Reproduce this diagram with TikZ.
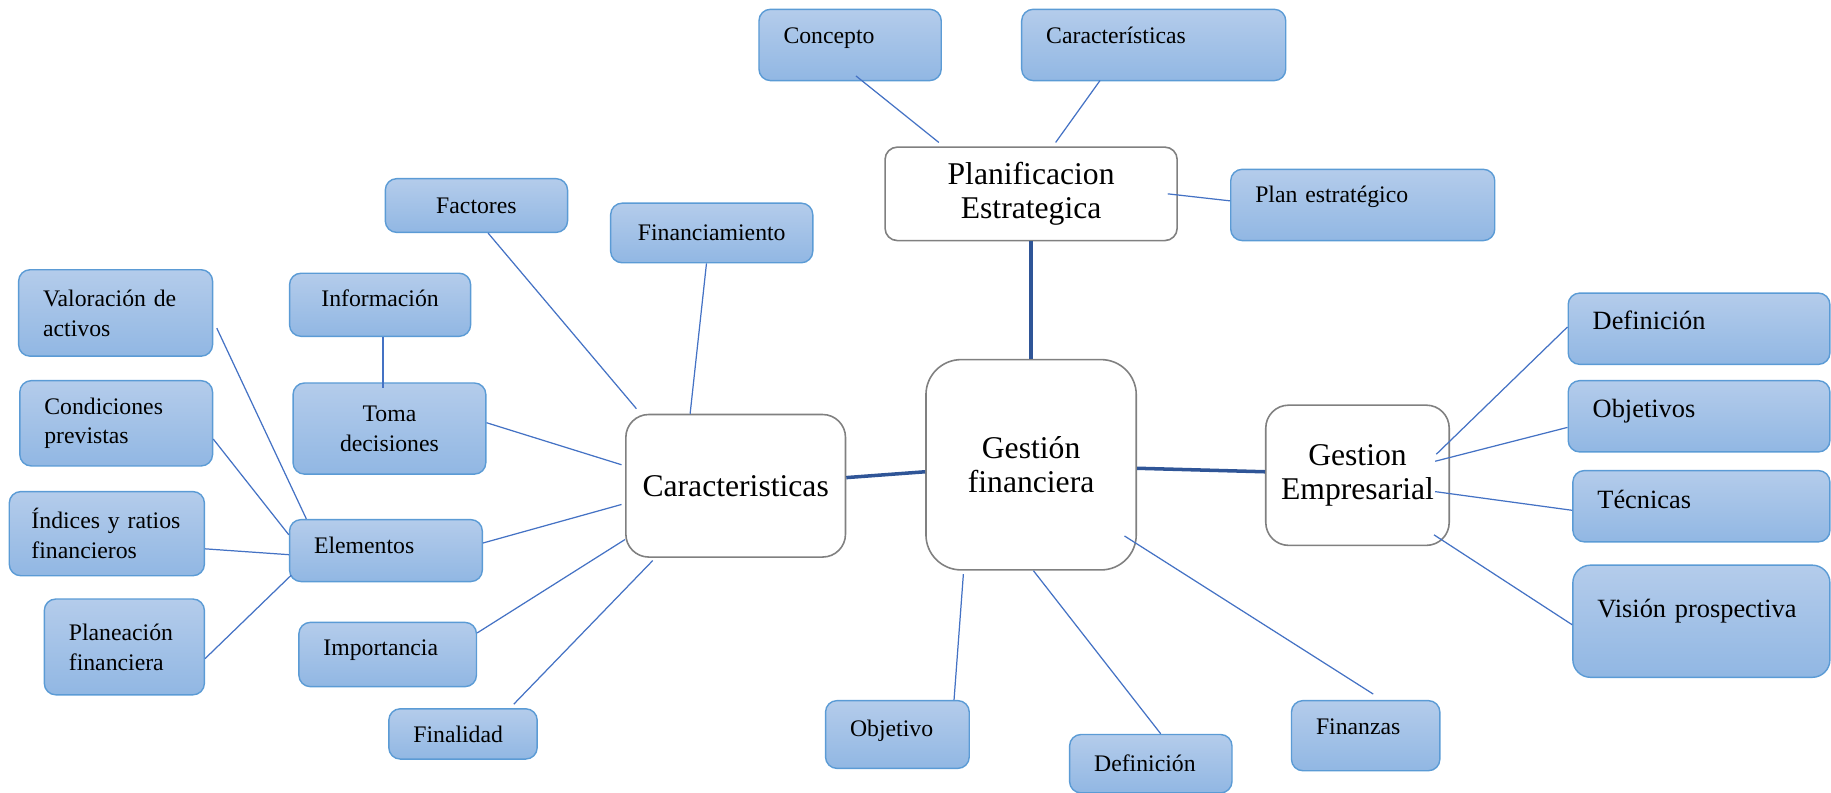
\documentclass[tikz,border=0pt]{standalone}
\usepackage{fontspec}
\setmainfont{Liberation Serif}
\usetikzlibrary{calc}
\newdimen\pxu
\pxu=0.6646pt
\definecolor{leaftop}{RGB}{180,204,235}
\definecolor{leafbot}{RGB}{145,183,227}
\definecolor{leafedge}{RGB}{91,155,213}
\definecolor{hubedge}{RGB}{128,128,128}
\definecolor{linkblue}{RGB}{68,114,196}
\definecolor{mainblue}{RGB}{47,85,151}
\tikzset{
	leaf/.style={draw=leafedge, line width=0.8pt, rounded corners=6.5pt,
		top color=leaftop, bottom color=leafbot, align=left,
		inner xsep=21\pxu, inner ysep=2pt, font=\fontsize{13.5}{17}\selectfont},
	bigleaf/.style={leaf, font=\fontsize{15}{18}\selectfont},
	hub/.style={draw=hubedge, line width=0.9pt, fill=white, align=center,
		inner sep=2pt, font=\fontsize{18}{19}\selectfont},
	txtup/.style={text height=9pt, text depth=#1},
	txtupL/.style={text height=10pt, text depth=#1},
	link/.style={draw=linkblue, line width=0.7pt},
	mainlink/.style={draw=mainblue, line width=2pt}}

\begin{document}
\begin{tikzpicture}[x=0.02335cm, y=-0.02335cm]
	\useasboundingbox (0,0) rectangle (1568,679);
	
	\node[hub, minimum width=250\pxu, minimum height=80\pxu, rounded corners=7pt] (plan) at (883,166) {Planificacion\\Estrategica};
	\node[hub, minimum width=180\pxu, minimum height=180\pxu, rounded corners=20pt] (gfin) at (883,398) {Gestión\\financiera};
	\node[hub, minimum width=188\pxu, minimum height=122\pxu, rounded corners=13pt] (cara) at (630,416) {Caracteristicas};
	\node[hub, minimum width=157\pxu, minimum height=120\pxu, rounded corners=13pt] (gemp) at (1162.5,407) {Gestion\\Empresarial};
	
	\node[leaf, txtup=10.8pt, text width=114\pxu, minimum height=61\pxu] (conc) at (728,38.5) {Concepto};
	\node[leaf, txtup=10.8pt, text width=184\pxu, minimum height=61\pxu] (carT) at (988,38.5) {Características};
	\node[leaf, txtup=11.4pt, text width=184\pxu, minimum height=61\pxu] (pest) at (1167,175.5) {Plan estratégico};
	
	\node[leaf, align=center, text width=114\pxu, minimum height=46\pxu] (fact) at (408,176) {Factores};
	\node[leaf, align=center, text width=131\pxu, minimum height=51\pxu] (fina) at (609.5,199.5) {Financiamiento};
	\node[leaf, align=center, txtup=6.8pt, text width=113\pxu, minimum height=54\pxu] (info) at (325.5,261) {Información};
	\node[leaf, align=center, text width=123\pxu, minimum height=78\pxu] (toma) at (333.5,367) {Toma\\decisiones};
	\node[leaf, txtup=6.1pt, text width=123\pxu, minimum height=53\pxu] (elem) at (330.5,471.5) {Elementos};
	\node[leaf, txtup=7.45pt, text width=110\pxu, minimum height=55\pxu] (impo) at (332,560.5) {Importancia};
	\node[leaf, text width=85\pxu, minimum height=43\pxu] (finl) at (396.5,628.5) {Finalidad};
	
	\node[leaf, text width=124\pxu, minimum height=74\pxu] (valo) at (99,268) {Valoración de\\activos};
	\node[leaf, text width=123\pxu, minimum height=73\pxu] (cond) at (99.5,362.5) {Condiciones\\previstas};
	\node[leaf, inner xsep=19\pxu, text width=129\pxu, minimum height=72\pxu] (indi) at (91.5,457) {\mbox{Índices y ratios}\\financieros};
	\node[leaf, text width=95\pxu, minimum height=82\pxu] (plane) at (106.5,554) {Planeación\\financiera};
	
	\node[leaf, txtup=6.8pt, text width=81\pxu, minimum height=58\pxu] (objt) at (768.5,629) {Objetivo};
	\node[leaf, text width=97\pxu, minimum height=50\pxu] (defB) at (985.5,654) {Definición};
	\node[leaf, txtup=10.8pt, text width=85\pxu, minimum height=60\pxu] (fnzs) at (1169.5,630) {Finanzas};
	
	\node[bigleaf, txtupL=9.1pt, text width=182\pxu, minimum height=61\pxu] (defR) at (1455,281.5) {Definición};
	\node[bigleaf, txtupL=9.1pt, text width=182\pxu, minimum height=61\pxu] (obje) at (1455,356.5) {Objetivos};
	\node[bigleaf, txtupL=7.75pt, text width=178\pxu, minimum height=61\pxu] (tecn) at (1457,433.5) {Técnicas};
	\node[bigleaf, txtupL=13.7pt, text width=178\pxu, minimum height=96\pxu, rounded corners=10pt] (visi) at (1457,532) {Visión prospectiva};
	
	\draw[mainlink]
	(plan.south) edge (gfin.north)
	($(gfin.west)+(0,6)$) edge ($(cara.east)+(0,-7)$)
	($(gfin.east)+(0,3)$) edge ($(gemp.west)+(0,-3)$)
	;
	
	\draw[link]
	($(conc)+(5,26.5)$) edge ($(plan)+(-79,-44)$)
	($(carT)+(-46,30.5)$) edge ($(plan)+(21,-44)$)
	($(plan)+(117,0)$) edge ($(pest.west)+(0,-3.5)$)
	($(fact.south)+(10,0)$) edge ($(cara)+(-85,-66)$)
	($(fina.south)+(-4.5,0)$) edge ($(cara.north)+(-39,0)$)
	($(info.south)+(2.5,0)$) edge ($(toma.north)+(-5.5,5)$)
	($(toma.east)+(0,-5)$) edge ($(cara.west)+(-3,-18)$)
	($(elem.east)+(0,-6.5)$) edge ($(cara.west)+(-3,16)$)
	($(impo.east)+(0,-18.5)$) edge ($(cara.west)+(0,46)$)
	($(finl)+(43.5,-25.5)$) edge ($(cara)+(-71,64)$)
	($(valo.east)+(3,13)$) edge ($(elem.north west)+(15,0)$)
	($(cond.east)+(0,13.5)$) edge ($(elem.west)+(0,-13.5)$)
	($(indi.east)+(0,13)$) edge ($(elem.west)+(0,3.5)$)
	($(plane.east)+(0,10)$) edge ($(elem.south west)+(2,-6)$)
	($(gfin.south)+(-58,3)$) edge ($(objt.north)+(48.5,0)$)
	($(gfin.south)+(2,0)$) edge ($(defB.north)+(8.5,0)$)
	($(gfin)+(80,61)$) edge ($(fnzs.north)+(6.5,-5)$)
	($(gemp)+(67.5,-18)$) edge ($(defR.west)+(0,-1.5)$)
	($(gemp)+(66.5,-12)$) edge ($(obje.west)+(0,9.5)$)
	($(gemp)+(66.5,14)$) edge ($(tecn.west)+(0,3.5)$)
	($(gemp)+(65.5,51)$) edge ($(visi.west)+(0,3)$)
	;
	
\end{tikzpicture}
\end{document}
